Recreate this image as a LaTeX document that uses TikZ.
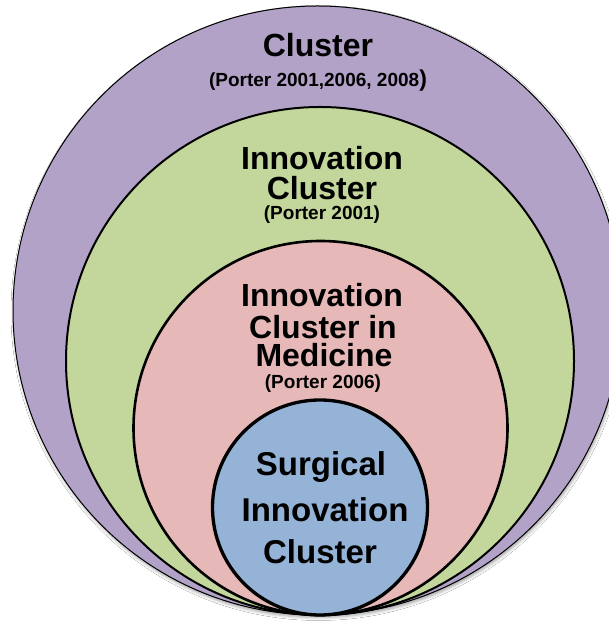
\documentclass[tikz,border=0pt]{standalone}
\usepackage{fontspec}
\setmainfont{Liberation Sans}
\usetikzlibrary{shadows.blur}
\definecolor{cpurple}{RGB}{178,162,199}
\definecolor{cgreen}{RGB}{195,214,155}
\definecolor{cpink}{RGB}{230,185,184}
\definecolor{cblue}{RGB}{149,179,215}
\tikzset{
  ring/.style={draw=black},
  title/.style={anchor=base, inner sep=0pt, font=\bfseries\fontsize{32}{32}\selectfont},
  bigtitle/.style={anchor=base, inner sep=0pt, font=\bfseries\fontsize{33}{33}\selectfont},
  cite/.style={anchor=base, inner sep=0pt, font=\bfseries\fontsize{19}{19}\selectfont},
}
\begin{document}
\begin{tikzpicture}[x=1pt,y=1pt]
\useasboundingbox (0,0) rectangle (609,621);
\clip (0,0) rectangle (609,621);
\fill[white] (0,0) rectangle (609,621);
% circles
\draw[ring, line width=1pt, fill=cpurple, blur shadow={shadow xshift=1pt, shadow yshift=-2.5pt, shadow blur radius=3pt, shadow opacity=35}] (317.5,310.5) circle[radius=304.5];
\draw[ring, line width=2pt, fill=cgreen] (320,260) circle[radius=254];
\draw[ring, line width=2.6pt, fill=cpink] (320.5,193) circle[radius=187];
\draw[ring, line width=3.3pt, fill=cblue] (320,113.5) circle[radius=107.5];
% texts
\node[title] (t1) at (318,564.5) {Cluster};
\node[cite] (c1) at (318,534) {(Porter 2001,2006, 2008{\fontsize{23}{23}\selectfont)}};
\node[title] (t2a) at (322,451.5) {Innovation};
\node[title] (t2b) at (322,421.5) {Cluster};
\node[cite] (c2) at (322,401) {(Porter 2001)};
\node[title] (t3a) at (322,314.5) {Innovation};
\node[title] (t3b) at (323,282.5) {Cluster in};
\node[title] (t3c) at (324,254.5) {Medicine};
\node[cite] (c3) at (323,232) {(Porter 2006)};
\node[bigtitle] (t4a) at (321,145) {Surgical};
\node[bigtitle] (t4b) at (325,99.5) {Innovation};
\node[bigtitle] (t4c) at (320,57.5) {Cluster};
\end{tikzpicture}
\end{document}
